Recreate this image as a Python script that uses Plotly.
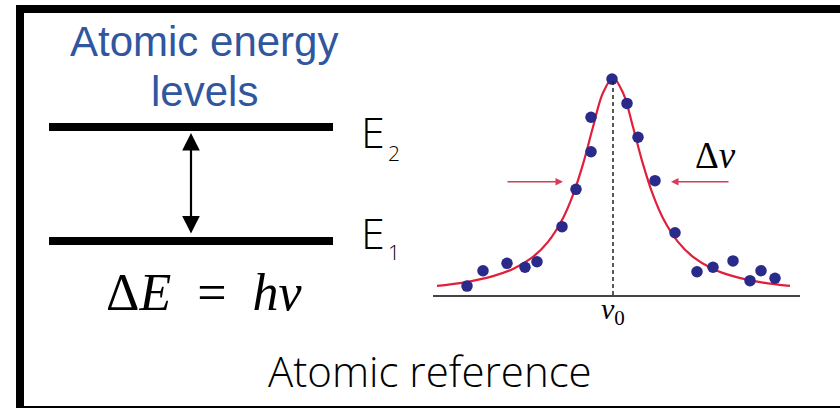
import plotly.graph_objects as go

# ---- data ----
# Lorentzian fit curve (frequency offset from nu0 in arbitrary units, normalized intensity)
curve_x = [-17.6, -15.0, -12.0, -10.0, -8.0, -6.5, -5.0, -4.0, -3.0, -2.0, -1.0, 0.0,
           1.0, 2.0, 3.0, 4.0, 5.0, 6.5, 8.0, 10.0, 12.0, 15.0, 17.7]
curve_y = [0.042, 0.057, 0.087, 0.120, 0.176, 0.245, 0.354, 0.461, 0.603, 0.774, 0.932, 1.0,
           0.932, 0.774, 0.603, 0.461, 0.354, 0.245, 0.176, 0.120, 0.087, 0.057, 0.042]
# measured points
pts_x = [-14.6, -13.0, -10.6, -8.8, -7.6, -5.1, -3.7, -2.2, -2.2, -0.1,
         1.4, 2.5, 4.2, 6.2, 8.4, 10.0, 12.0, 13.7, 14.8, 16.2]
pts_y = [0.041, 0.112, 0.146, 0.128, 0.153, 0.315, 0.487, 0.660, 0.819, 0.995,
         0.883, 0.727, 0.527, 0.287, 0.107, 0.128, 0.157, 0.066, 0.112, 0.077]
half_max = 0.522
fwhm_arrow_left = [-10.7, -5.0]
fwhm_arrow_right = [11.7, 5.8]

title_lines = ["Atomic energy", "levels"]
level_labels = [("E", "2"), ("E", "1")]
equation = "Δ<i>E</i>\u2002=\u2002<i>hv</i>"
bottom_label = "Atomic reference"

W, H = 840, 408
def px(x):
    return x / W
def py(y):
    return 1 - y / H

fig = go.Figure()
fig.add_trace(go.Scatter(x=curve_x, y=curve_y, mode="lines", line=dict(color="#e0203a", width=2.2, shape="spline"),
                         hoverinfo="skip", showlegend=False))
fig.add_trace(go.Scatter(x=pts_x, y=pts_y, mode="markers",
                         marker=dict(color="#2a2a8a", size=11.5, line=dict(width=0)), showlegend=False))

shapes = []
# frame
shapes.append(dict(type="line", xref="paper", yref="paper", x0=px(16), x1=px(840), y0=py(9), y1=py(9),
                   line=dict(color="black", width=8)))
shapes.append(dict(type="line", xref="paper", yref="paper", x0=px(20), x1=px(20), y0=py(5), y1=py(408),
                   line=dict(color="black", width=8)))
shapes.append(dict(type="line", xref="paper", yref="paper", x0=px(16), x1=px(840), y0=py(407), y1=py(407),
                   line=dict(color="black", width=2)))
# energy levels
for yy in (127, 241):
    shapes.append(dict(type="line", xref="paper", yref="paper", x0=px(49), x1=px(333), y0=py(yy), y1=py(yy),
                       line=dict(color="black", width=8)))
# nu0 dashed line
shapes.append(dict(type="line", xref="x", yref="y", x0=0, x1=0, y0=0, y1=1.0,
                   line=dict(color="#222", width=1.5, dash="4px,3px")))

ann = []
def label(x, y, text, font, xref="paper", yref="paper"):
    ann.append(dict(xref=xref, yref=yref, x=x, y=y, text=text, showarrow=False,
                    xanchor="center", yanchor="middle", font=font))

# double arrow between levels
ann.append(dict(xref="paper", yref="paper", x=px(191), y=py(133), ax=0, ay=102, showarrow=True,
                arrowhead=2, startarrowhead=2, arrowside="end+start", arrowsize=1.6, startarrowsize=1.6,
                arrowwidth=2.2, arrowcolor="black", text=""))
# title
label(px(204), py(42), title_lines[0], dict(family="Liberation Sans, Arial", size=42, color="#3056a0"))
label(px(204), py(92), title_lines[1], dict(family="Liberation Sans, Arial", size=42, color="#3056a0"))
# level labels
for (lab, sub), yc, ys in zip(level_labels, (132, 232), (153, 252)):
    label(px(373), py(yc), lab, dict(family="Open Sans", size=43, color="black", weight=300))
    label(px(394), py(ys), sub, dict(family="Open Sans", size=21, color="black", weight=300))
# equation
label(px(204), py(292), equation, dict(family="Liberation Serif", size=52, color="black"))
# bottom label
label(px(430), py(370), bottom_label, dict(family="Open Sans", size=42, color="black", weight=300))
# FWHM arrows
ann.append(dict(xref="x", yref="y", axref="x", ayref="y", x=fwhm_arrow_left[1], y=half_max,
                ax=fwhm_arrow_left[0], ay=half_max, showarrow=True, arrowhead=2, arrowsize=1,
                arrowwidth=1.5, arrowcolor="#d83a5a", text=""))
ann.append(dict(xref="x", yref="y", axref="x", ayref="y", x=fwhm_arrow_right[1], y=half_max,
                ax=fwhm_arrow_right[0], ay=half_max, showarrow=True, arrowhead=2, arrowsize=1,
                arrowwidth=1.5, arrowcolor="#d83a5a", text=""))
label(10.2, 0.645, "Δ<i>ν</i>", dict(family="Liberation Serif", size=37, color="black"), xref="x", yref="y")
label(0, py(311), "<i>ν</i><sub>0</sub>", dict(family="Liberation Serif", size=30, color="black"), xref="x")

fig.update_layout(
    width=W, height=H, margin=dict(l=0, r=0, t=0, b=0),
    paper_bgcolor="white", plot_bgcolor="white",
    shapes=shapes, annotations=ann, showlegend=False,
    xaxis=dict(domain=[433 / W, 800 / W], range=[-18.0, 18.7], showgrid=False, zeroline=False,
               showticklabels=False, ticks="", showline=True, linecolor="#444", linewidth=1.5),
    yaxis=dict(domain=[py(295), py(67)], range=[0, 228 / 217], showgrid=False, zeroline=False,
               showticklabels=False, ticks="", showline=False),
)
fig.write_html("out.html")
